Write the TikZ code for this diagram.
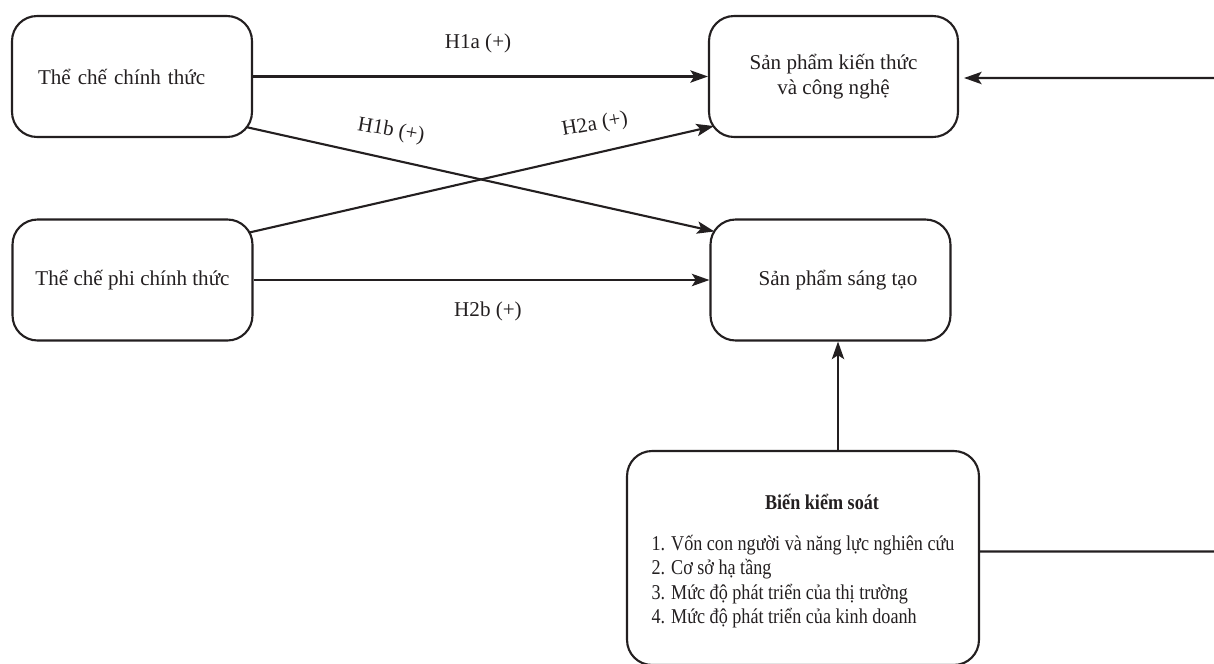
\documentclass[tikz,border=0pt]{standalone}
\usepackage{fontspec}
\setmainfont{Liberation Serif}
\newfontfamily\narrowserif{Liberation Serif}[FakeStretch=0.86]
\usepackage{tikz}
\definecolor{ink}{HTML}{231F20}
\usetikzlibrary{arrows.meta, positioning}
\tikzset{
	hbox/.style={draw=ink, line width=1.2pt, rounded corners=0.5cm, align=center,
		font=\fontsize{12pt}{14.5pt}\selectfont, text=ink,
		minimum width=4.8cm, minimum height=2.42cm},
	harr/.style={-{Stealth[length=10pt, width=7pt, inset=2.2pt]}, line width=1.2pt, draw=ink},
	hlab/.style={font=\fontsize{12pt}{14.5pt}\selectfont, text=ink, inner sep=1pt}
}

\begin{document}
\begin{tikzpicture}[x=0.02cm, y=-0.02cm]
	\useasboundingbox (0,0) rectangle (1214,663);
	\clip (0,0) rectangle (1214,663);
	% boxes
	\node[hbox, text width=3.76cm, align=left, inner xsep=0.52cm] (formal) at (132,76.5) {Thể chế chính thức};
	\node[hbox] (informal) at (132.5,280) {Thể chế phi chính thức};
	\node[hbox, minimum width=4.98cm] (know) at (833.5,76.5) {Sản phẩm kiến thức\\và công nghệ};
	\node[hbox] (creat) at (830.5,280) {\hspace*{0.3cm}Sản phẩm sáng tạo};
	\node[hbox, minimum width=7.04cm, minimum height=4.28cm, font=\narrowserif\fontsize{12pt}{14pt}\selectfont] (ctrl) at (803,558)
		{\rule{0pt}{0.5cm}\hspace*{0.76cm}\textbf{Biến kiểm soát}\\[9pt]
		\begin{tabular}[t]{@{}l@{}}
			1. Vốn con người và năng lực nghiên cứu\\
			2. Cơ sở hạ tầng\\
			3. Mức độ phát triển của thị trường\\
			4. Mức độ phát triển của kinh doanh
		\end{tabular}};
	% helper points
	\coordinate (cx) at ([shift={(7.5,0)}]creat.south);
	\coordinate (rlow) at (1240,551.5);
	\coordinate (rup) at (1240,78);
	% hypotheses
	\draw[harr] (formal.east) -- (know.west);
	\draw[harr] ([shift={(-7,-11)}]formal.south east) -- ([shift={(5,13)}]creat.north west);
	\draw[harr] ([shift={(-4,14)}]informal.north east) -- ([shift={(6,-12)}]know.south west);
	\draw[harr] (informal.east) -- (creat.west);
	\node[hlab] (l1a) at (478,43) {H1a (+)};
	\node[hlab, rotate=-10] (l1b) at (391,131) {H1b (+)};
	\node[hlab, rotate=10] (l2a) at (595,125) {H2a (+)};
	\node[hlab] (l2b) at (488,311) {H2b (+)};
	% controls
	\draw[harr] (ctrl.north -| cx) -- (cx);
	\draw[harr] ([shift={(0,-6.5)}]ctrl.east) -- (rlow) -- (rup) -- ([shift={(5,1.5)}]know.east);
\end{tikzpicture}
\end{document}
